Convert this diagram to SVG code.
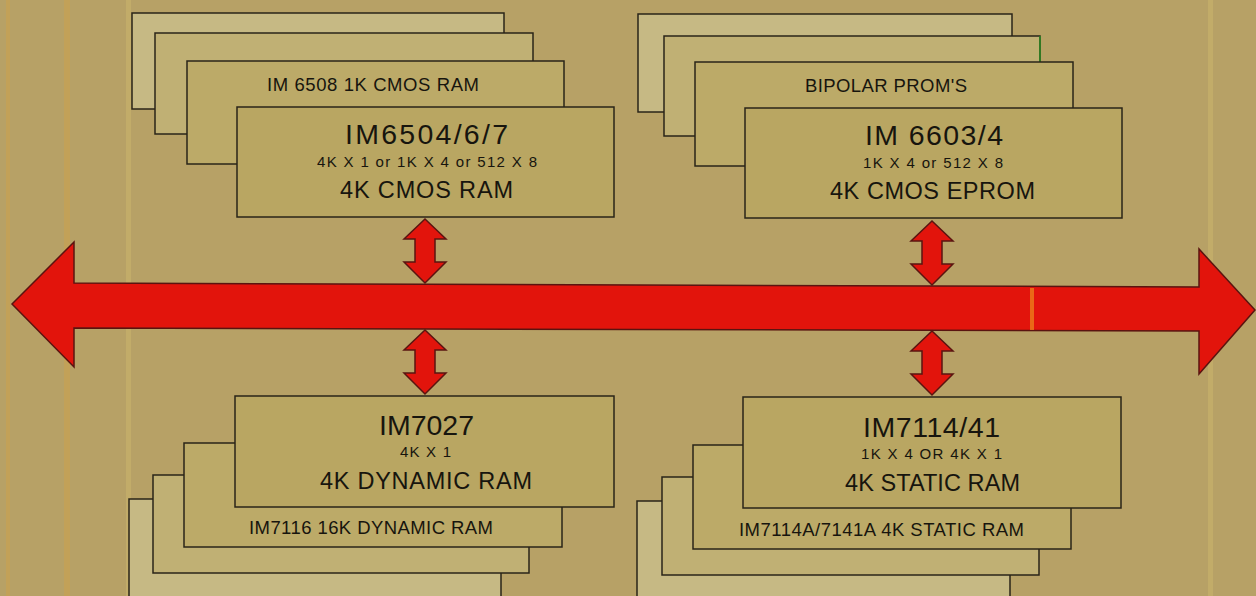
<svg xmlns="http://www.w3.org/2000/svg" width="1256" height="596" viewBox="0 0 1256 596">
<style>
.bg{fill:#b7a166}
.streak{fill:#d8a040;opacity:0.35}
.streak2{fill:#d6c070;opacity:0.35}
.card{stroke:#2a2418;stroke-width:1.5}
.a{fill:#c6b984}
.b{fill:#c0b074}
.c{fill:#bcaa68}
.d{fill:#b9a662}
.t{font-family:"Liberation Sans",Arial,sans-serif;fill:#17150e;text-anchor:middle}
.s18{font-size:18.5px}
.s28{font-size:28.5px}
.s15{font-size:15px}
.s23{font-size:23.5px}
.red{fill:#e2140c;stroke:#5a1410;stroke-width:1.5;stroke-linejoin:miter}
</style>
<defs>
<path id="dbl" d="M0,0 L21,20 L10,20 L10,43 L21,43 L0,64 L-21,43 L-10,43 L-10,20 L-21,20 Z"/>
</defs>
<rect class="bg" x="0" y="0" width="1256" height="596"/>
<g id="streaks">
<rect class="streak" x="6" y="0" width="4" height="596"/>
<rect class="streak" x="64" y="0" width="6" height="596"/>
<rect class="streak2" x="126" y="0" width="5" height="596"/>
<rect class="streak2" x="1208" y="0" width="5" height="596"/>
</g>

<g id="node-cmos-ram">
<rect class="card a" x="132" y="13" width="372" height="96"/>
<rect class="card b" x="155" y="33" width="378" height="101"/>
<rect class="card c" x="187" y="61" width="377" height="103"/>
<text class="t s18" x="373" y="91" textLength="212" lengthAdjust="spacing">IM 6508 1K CMOS RAM</text>
<rect class="card d" x="237" y="107" width="377" height="110"/>
<text class="t s28" x="426.5" y="144" textLength="163" lengthAdjust="spacing">IM6504/6/7</text>
<text class="t s15" x="427" y="167" textLength="220" lengthAdjust="spacing">4K X 1 or 1K X 4 or 512 X 8</text>
<text class="t s23" x="426.5" y="198" textLength="173" lengthAdjust="spacing">4K CMOS RAM</text>
</g>

<g id="node-cmos-eprom">
<rect class="card a" x="638" y="14" width="374" height="98"/>
<rect class="card b" x="664" y="36" width="376" height="100"/>
<line x1="1040" y1="36" x2="1040" y2="62" stroke="#2a8a20" stroke-width="1.5"/>
<rect class="card c" x="695" y="62" width="378" height="104"/>
<text class="t s18" x="886" y="92" textLength="162" lengthAdjust="spacing">BIPOLAR PROM'S</text>
<rect class="card d" x="745" y="108" width="377" height="110"/>
<text class="t s28" x="934" y="145" textLength="138" lengthAdjust="spacing">IM 6603/4</text>
<text class="t s15" x="933" y="168" textLength="140" lengthAdjust="spacing">1K X 4 or 512 X 8</text>
<text class="t s23" x="932.5" y="199" textLength="205" lengthAdjust="spacing">4K CMOS EPROM</text>
</g>

<g id="node-dynamic-ram">
<rect class="card a" x="129" y="499" width="372" height="102"/>
<rect class="card b" x="153" y="475" width="376" height="98"/>
<rect class="card c" x="184" y="443" width="378" height="104"/>
<text class="t s18" x="371" y="534" textLength="244" lengthAdjust="spacing">IM7116 16K DYNAMIC RAM</text>
<rect class="card d" x="235" y="396" width="379" height="111"/>
<text class="t s28" x="426.5" y="435" textLength="95" lengthAdjust="spacing">IM7027</text>
<text class="t s15" x="425.5" y="457" textLength="51" lengthAdjust="spacing">4K X 1</text>
<text class="t s23" x="426" y="489" textLength="212" lengthAdjust="spacing">4K DYNAMIC RAM</text>
</g>

<g id="node-static-ram">
<rect class="card a" x="637" y="501" width="373" height="100"/>
<rect class="card b" x="662" y="477" width="377" height="98"/>
<rect class="card c" x="693" y="445" width="378" height="104"/>
<text class="t s18" x="881.5" y="536" textLength="285" lengthAdjust="spacing">IM7114A/7141A 4K STATIC RAM</text>
<rect class="card d" x="743" y="397" width="378" height="111"/>
<text class="t s28" x="931.5" y="437" textLength="137" lengthAdjust="spacing">IM7114/41</text>
<text class="t s15" x="931.5" y="459" textLength="141" lengthAdjust="spacing">1K X 4 OR 4K X 1</text>
<text class="t s23" x="932.5" y="491" textLength="175" lengthAdjust="spacing">4K STATIC RAM</text>
</g>

<g id="connectors">
<polygon class="red" points="12,304 74,242 74,283 1199,287 1199,249 1255,310 1199,374 1199,331 74,328 74,367"/>
<rect x="1030" y="288" width="4" height="42" fill="#f0a020" opacity="0.6"/>
<use href="#dbl" class="red" transform="translate(425,219)"/>
<use href="#dbl" class="red" transform="translate(425,330)"/>
<use href="#dbl" class="red" transform="translate(932,221)"/>
<use href="#dbl" class="red" transform="translate(932,331)"/>
</g>
</svg>
